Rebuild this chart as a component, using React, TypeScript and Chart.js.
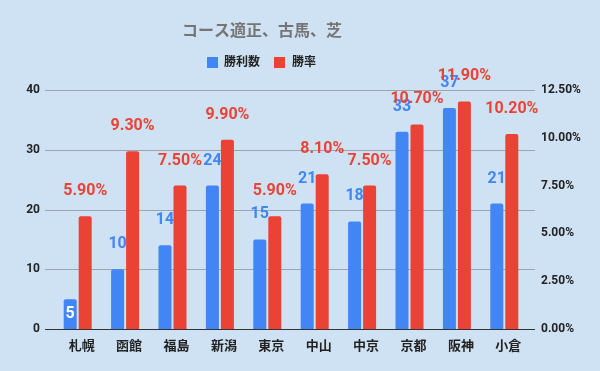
import React, { useEffect, useRef } from "react";
import { Chart, registerables } from "chart.js";

Chart.register(...registerables);

const categories = ["札幌", "函館", "福島", "新潟", "東京", "中山", "中京", "京都", "阪神", "小倉"];
const wins = [5, 10, 14, 24, 15, 21, 18, 33, 37, 21];
const winRates = [5.9, 9.3, 7.5, 9.9, 5.9, 8.1, 7.5, 10.7, 11.9, 10.2];
const leftTicks = [0, 10, 20, 30, 40];
const seriesNames = ["勝利数", "勝率"];
const titleText = "コース適正、古馬、芝";

const BLUE = "#4285f4";
const RED = "#ea4335";
const BG = "#cfe2f3";
const FONT = "Roboto, 'Noto Sans CJK JP', sans-serif";

export default function App() {
  const ref = useRef<HTMLCanvasElement | null>(null);

  useEffect(() => {
    document.body.style.margin = "0";
    document.body.style.background = BG;
    const canvas = ref.current;
    if (!canvas) return;

    const decor = {
      id: "decor",
      beforeDraw(chart: any) {
        const ctx = chart.ctx;
        ctx.save();
        ctx.fillStyle = BG;
        ctx.fillRect(0, 0, chart.width, chart.height);
        // title
        ctx.fillStyle = "#757575";
        ctx.font = `bold 16px ${FONT}`;
        ctx.textAlign = "center";
        ctx.textBaseline = "middle";
        ctx.fillText(titleText, 262, 32);
        // legend
        ctx.font = `bold 12px ${FONT}`;
        ctx.textAlign = "left";
        ctx.fillStyle = BLUE;
        ctx.fillRect(207, 57, 11, 11);
        ctx.fillStyle = "#222";
        ctx.fillText(seriesNames[0], 224, 63);
        ctx.fillStyle = RED;
        ctx.fillRect(274, 57, 11, 11);
        ctx.fillStyle = "#222";
        ctx.fillText(seriesNames[1], 292, 63);
        ctx.restore();
      },
      beforeDatasetsDraw(chart: any) {
        const ctx = chart.ctx;
        const y = chart.scales.y;
        ctx.save();
        ctx.lineWidth = 1;
        leftTicks.forEach((t) => {
          const py = Math.round(y.getPixelForValue(t)) + 0.5;
          ctx.strokeStyle = t === 0 ? "#333" : "#9aa5b1";
          ctx.beginPath();
          ctx.moveTo(45, py);
          ctx.lineTo(535, py);
          ctx.stroke();
        });
        ctx.restore();
      },
      afterDatasetsDraw(chart: any) {
        const ctx = chart.ctx;
        ctx.save();
        ctx.font = `bold 16px ${FONT}`;
        ctx.textAlign = "center";
        ctx.textBaseline = "middle";
        chart.data.datasets.forEach((ds: any, di: number) => {
          const meta = chart.getDatasetMeta(di);
          meta.data.forEach((bar: any, i: number) => {
            const v = ds.data[i];
            const text = di === 0 ? String(v) : v.toFixed(2) + "%";
            const h = bar.base - bar.y;
            if (h < 35) {
              ctx.fillStyle = "#ffffff";
              ctx.fillText(text, bar.x, (bar.y + bar.base) / 2);
            } else {
              ctx.fillStyle = di === 0 ? BLUE : RED;
              ctx.fillText(text, bar.x, bar.y - 25);
            }
          });
        });
        ctx.restore();
      },
    };

    const chart = new Chart(canvas, {
      type: "bar",
      data: {
        labels: categories,
        datasets: [
          {
            label: seriesNames[0],
            data: wins,
            backgroundColor: BLUE,
            yAxisID: "y",
            categoryPercentage: 0.633,
            barPercentage: 0.867,
            borderRadius: { topLeft: 2, topRight: 2, bottomLeft: 0, bottomRight: 0 },
            borderSkipped: "bottom",
          },
          {
            label: seriesNames[1],
            data: winRates,
            backgroundColor: RED,
            yAxisID: "y1",
            categoryPercentage: 0.633,
            barPercentage: 0.867,
            borderRadius: { topLeft: 2, topRight: 2, bottomLeft: 0, bottomRight: 0 },
            borderSkipped: "bottom",
          },
        ],
      },
      options: {
        responsive: false,
        animation: false,
        layout: { padding: { top: 90, left: 0, right: 0, bottom: 0 } },
        plugins: {
          legend: { display: false },
          title: { display: false },
          tooltip: { enabled: false },
        },
        scales: {
          x: {
            offset: true,
            grid: { display: false, drawTicks: false },
            border: { display: false },
            ticks: {
              font: { family: FONT, size: 13, weight: "bold" },
              color: "#222",
              padding: 10,
              labelOffset: 4,
              maxRotation: 0,
              autoSkip: false,
            },
            afterFit: (s: any) => {
              s.height = 42;
            },
          },
          y: {
            position: "left",
            min: 0,
            max: 40,
            grid: { display: false, drawTicks: false },
            border: { display: false },
            ticks: {
              stepSize: 10,
              font: { family: FONT, size: 12, weight: "bold" },
              color: "#222",
              padding: 14,
            },
            afterFit: (s: any) => {
              s.width = 54;
            },
          },
          y1: {
            position: "right",
            min: 0,
            max: 12.5,
            grid: { display: false, drawTicks: false },
            border: { display: false },
            ticks: {
              stepSize: 2.5,
              font: { family: FONT, size: 12, weight: "bold" },
              color: "#222",
              padding: 13,
              callback: (v: any) => Number(v).toFixed(2) + "%",
            },
            afterFit: (s: any) => {
              s.width = 72;
            },
          },
        },
      },
      plugins: [decor],
    });

    return () => chart.destroy();
  }, []);

  return (
    <div style={{ width: 600, height: 371 }}>
      <canvas ref={ref} width={600} height={371} style={{ display: "block" }} />
    </div>
  );
}
